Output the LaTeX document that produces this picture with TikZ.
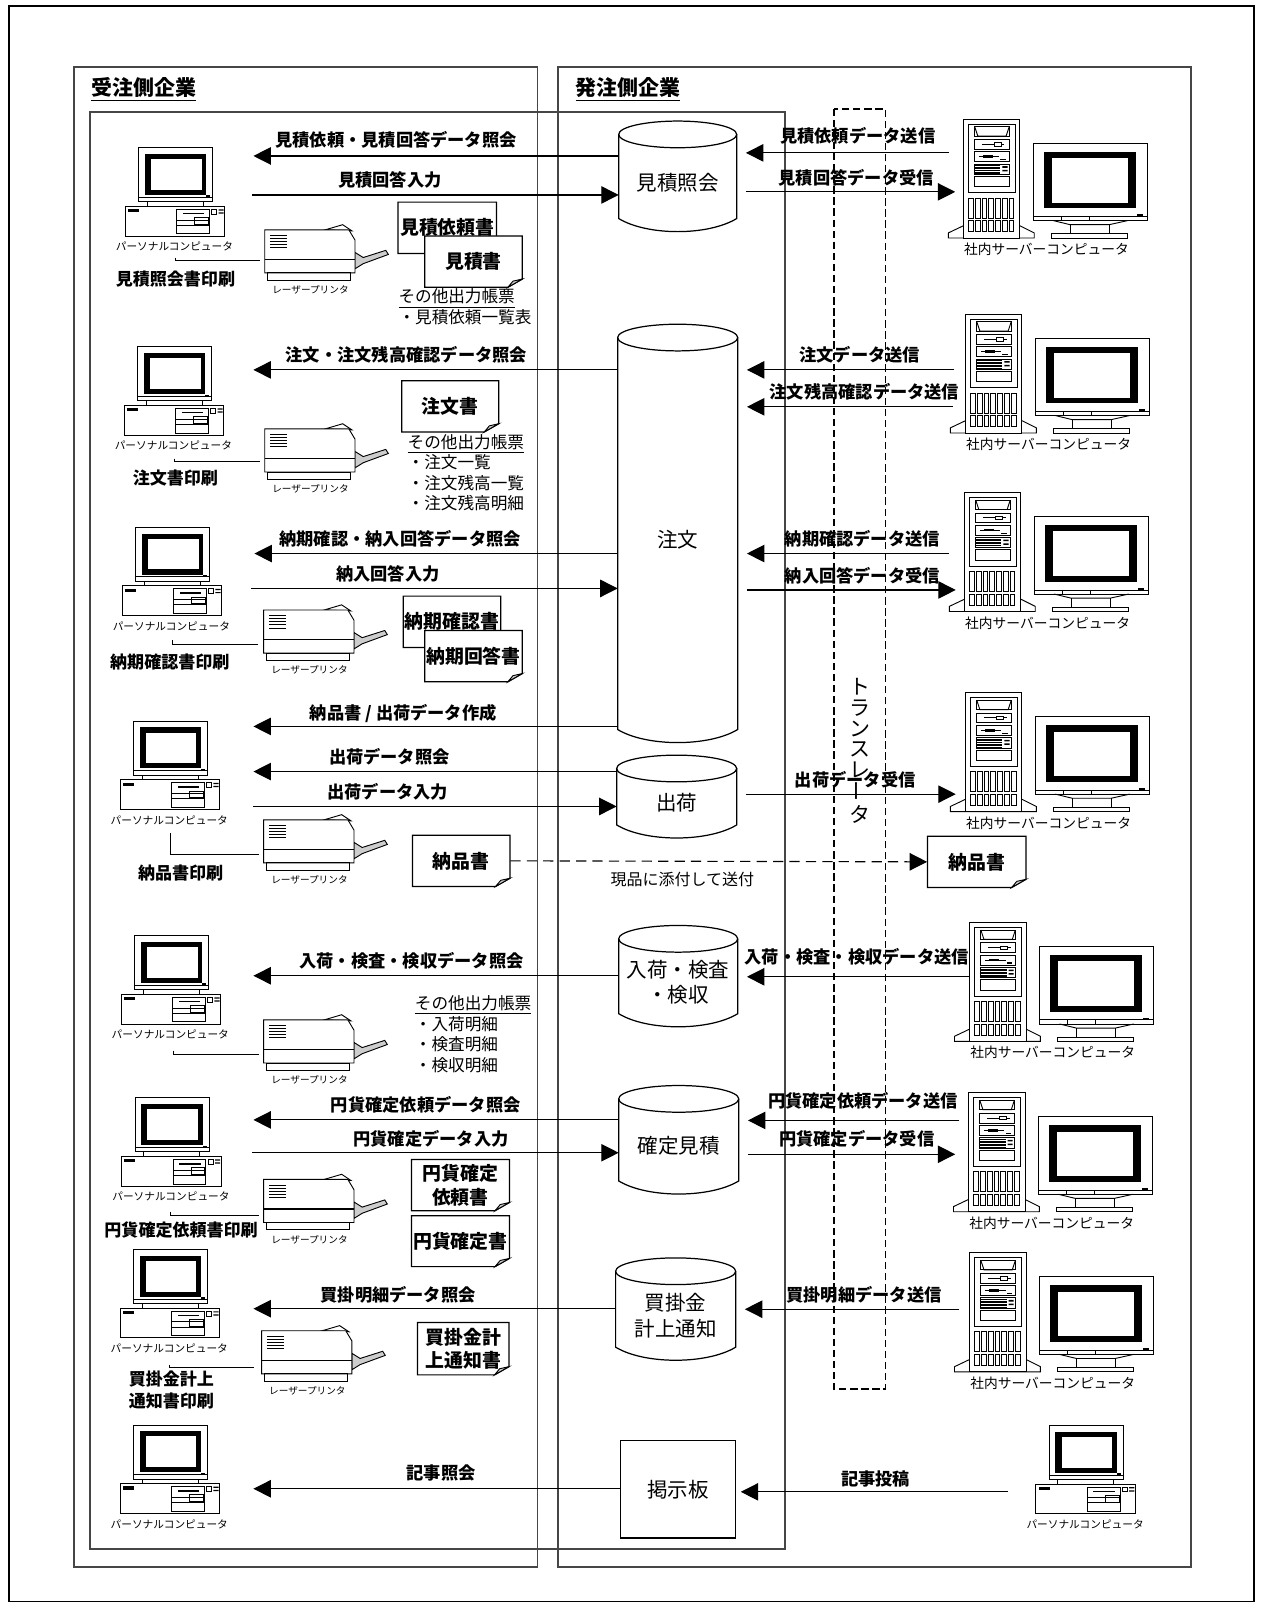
\documentclass[tikz,border=0pt]{standalone}
\usepackage{fontspec}
\setmainfont{Noto Sans CJK JP}
\usetikzlibrary{arrows.meta,positioning,calc}
\definecolor{paneline}{RGB}{70,70,70}
\definecolor{foldgray}{RGB}{205,205,205}
\tikzset{
  every picture/.style={line join=miter},
  panel/.style={draw=paneline,line width=0.8pt},
  gear/.style={line width=0.45pt},
  flow/.style={line width=0.55pt,-{Triangle[length=8.5pt,width=8.5pt]}},
  feedline/.style={line width=0.55pt},
  flowlabel/.style={inner sep=0pt,font=\bfseries\fontsize{8.4}{10}\selectfont},
  printlabel/.style={inner sep=0pt,align=center,font=\bfseries\fontsize{8.3}{10.5}\selectfont},
  papertext/.style={inner sep=0pt,align=center,font=\bfseries\fontsize{9.2}{11.5}\selectfont},
  dbtext/.style={inner sep=0pt,outer sep=0pt,align=center,font=\fontsize{10}{12.5}\selectfont},
  otherlist/.style={inner sep=0pt,anchor=north west,align=left,font=\fontsize{8.1}{10}\selectfont},
  sidetitle/.style={inner sep=0pt,font=\bfseries\fontsize{10.2}{12}\selectfont},
  pclabel/.style={inner sep=0pt,font=\fontsize{5.2}{6}\selectfont},
  srvlabel/.style={inner sep=0pt,font=\fontsize{6.7}{8}\selectfont},
  prnlabel/.style={inner sep=0pt,font=\fontsize{4.7}{6}\selectfont},
  pics/pcset/.style={code={
    \draw[gear] (13,0) rectangle (85.5,52.5);
    \fill (19,6) rectangle (79,46);
    \fill[white] (25,11) rectangle (74.5,41);
    \draw[gear] (13,48.3) -- (85.5,48.3);
    \fill (79,46.5) rectangle (83,48.3);
    \draw[gear] (21.5,52.5) -- (21.5,57) (76,52.5) -- (76,57);
    \draw[gear] (0,57) rectangle (97,86);
    \fill (2.6,59.7) rectangle (13.4,63);
    \draw[gear] (50,60) rectangle (82,84);
    \draw[gear] (50,70.4) -- (82,70.4) (50,75.3) -- (82,75.3);
    \fill (56,63.3) rectangle (77,65);
    \draw[gear] (68,68) rectangle (81,74.4);
    \draw[gear] (84.3,60) rectangle (89,64.6);
    \fill (91,60) rectangle (96,61.2) (91,63) rectangle (96,64.2);
    \node[pclabel] (-label) at (48,96.5) {パーソナルコンピュータ};
  }},
  pics/srvset/.style={code={
    \draw[gear] (0,104) -- (-14.7,111) -- (-14.7,116) -- (69,116) -- (69,111) -- (55,104);
    \draw[gear,fill=white] (0,0) rectangle (55,116);
    \draw[gear] (5,5) rectangle (51,72);
    \draw[gear] (11,7.5) rectangle (44.6,16.6);
    \draw[gear] (11,7.5) -- (14,16.6) -- (41.6,16.6) -- (44.6,7.5);
    \draw[gear] (11,20) rectangle (44.6,29.5);
    \draw[gear] (18,24.7) -- (30,24.7) (30,23) rectangle (37,26.5) (37,24.7) -- (40,24.7);
    \draw[gear] (11,32) rectangle (44.6,41.6);
    \fill (19,35.5) rectangle (29,38);
    \draw[gear] (15,36.7) -- (35,36.7);
    \fill (36,39) rectangle (41,40.3);
    \draw[gear] (11,44) rectangle (44.6,54);
    \foreach \hy in {45.5,47,...,53} \draw[line width=0.3pt] (11,\hy) -- (36,\hy);
    \fill (38,46) rectangle (43,47.5) (38,49.5) rectangle (43,51);
    \draw[gear] (11,56) rectangle (44.6,66);
    \foreach \vx in {5,11.6,...,45} {
      \draw[gear] (\vx,77) rectangle ++(4.6,19.6);
      \draw[gear] (\vx,99) rectangle ++(4.6,11);
    }
    \draw[gear] (68,23.5) rectangle (179,99);
    \fill (78.5,31.8) rectangle (168,87);
    \fill[white] (86,38) rectangle (160.6,81.5);
    \draw[gear] (68,95) -- (179,95) (95.7,95) -- (95.7,99) (122.6,95) -- (122.6,99);
    \fill (169,93) rectangle (175,95);
    \draw[gear] (87.6,99) -- (104,103) -- (142,103) -- (160,99);
    \draw[gear] (104,103) -- (104,112) (142,103) -- (142,112);
    \draw[gear] (86,112) rectangle (160,116);
    \node[srvlabel] (-label) at (81,127) {社内サーバーコンピュータ};
  }},
  pics/prnset/.style={code={
    \draw[gear,fill=white] (59,0) -- (76,-5) -- (85,1) -- cycle;
    \draw[gear,fill=foldgray] (88,22) -- (96,27) -- (118,20) -- (120.5,24) -- (96,33) -- (88,38) -- cycle;
    \draw[gear,fill=white] (0,0) -- (82,0) -- (88,10) -- (88,42) -- (0,42) -- cycle;
    \draw[line width=0.7pt] (0,29) -- (88,29);
    \draw[gear] (3,42) rectangle (84,49);
    \foreach \ly in {5.5,8.5,...,18} \draw[line width=0.4pt] (5.6,\ly) -- (22,\ly);
    \node[prnlabel] (-label) at (44.6,58.5) {レーザープリンタ};
  }},
}
% args: name, x1, y1, x2, y2, text
\newcommand{\dbcyl}[6]{%
  \draw[line width=0.6pt] (#2,#3+13) -- (#2,#5-13) .. controls (#2+28,#5+4) and (#4-28,#5+4) .. (#4,#5-13) -- (#4,#3+13);
  \draw[line width=0.6pt] ({(#2+#4)/2},#3+13) ellipse [x radius={(#4-#2)/2},y radius=13];
  \node[dbtext,minimum width={(#4-#2)*0.5pt},minimum height={(#5-#3)*0.5pt}] (#1) at ({(#2+#4)/2},{(#3+#5)/2+6}) {#6};
  \coordinate (#1-r) at ([xshift=4.5pt]#1.east);
}
\newcommand{\paper}[6]{%
  \draw[gear,line width=0.6pt,fill=white] (#2,#3) -- (#4,#3) -- (#4,#5-8) -- (#4-14,#5) -- (#2,#5) -- cycle;
  \draw[gear,fill=foldgray] (#4,#5-8) -- (#4-9,#5-6) -- (#4-14,#5) -- cycle;
  \node[papertext,minimum width={(#4-#2)*0.5pt},minimum height={(#5-#3)*0.5pt}] (#1) at ({(#2+#4)/2},{(#3+#5)/2}) {#6};
}

\begin{document}
\begin{tikzpicture}[x=0.5pt,y=-0.5pt]
  \useasboundingbox (0,0) rectangle (1230,1568.2);
  \draw[line width=0.8pt] (9,6) rectangle (1222,1561);
  \draw[panel] (72,65) rectangle (524,1527);
  \draw[panel] (544,65) rectangle (1161,1527);
  \draw[panel] (88,109) rectangle (765,1510);
  \draw[line width=0.75pt,dash pattern=on 3.6pt off 1.8pt] (813,106) rectangle (863,1354);
  \node[sidetitle] (sideA) at (140,87) {\underline{受注側企業}};
  \node[sidetitle] (sideB) at (612,87) {\underline{発注側企業}};
  \node[dbtext,font=\fontsize{10.2}{10.2}\selectfont] (trans) at (838,731.5)
    {ト\\ラ\\ン\\ス\\レ\\\rotatebox{90}{ー}\\タ};

  % databases
  \dbcyl{dbA}{603}{118}{718}{226}{見積照会}
  \dbcyl{dbB}{602}{316}{719}{724}{\raisebox{-2.5pt}{注文}}
  \dbcyl{dbC}{601}{736}{718}{817}{出荷}
  \dbcyl{dbD}{603}{902}{719}{1001}{入荷・検査\\・検収}
  \dbcyl{dbE}{603}{1058}{720}{1164}{確定見積}
  \dbcyl{dbF}{600}{1226}{717}{1326}{買掛金\\計上通知}
  \node[draw,line width=0.6pt,dbtext,minimum width=56pt,minimum height=47.5pt] (board) at (661,1451.5) {掲示板};
  \coordinate (board-r) at ([xshift=2.5pt]board.east);

  % client machines
  \foreach \n/\px/\py in {A/122/144,B/121/338,C/119/514,D/117/703,E/118/912,F/118.6/1070,G/117/1218,H/117/1389,K/1009.6/1389.5}
    \pic (pc\n) at (\px,\py) {pcset};
  % server machines
  \foreach \n/\px/\py in {A/939/116,B/941/306,C/940/480,D/941/675,E/945/899,F/944/1065,G/945/1221}
    \pic (srv\n) at (\px,\py) {srvset};
  % printers
  \foreach \n/\px/\py in {A/258/224,B/258/418,C/257/594.5,D/257/799,E/257/994,F/257/1149.5,G/255/1297}
    \pic (prn\n) at (\px,\py) {prnset};
  \foreach \n/\xa/\ya/\xb/\yb in {A/171/251/253/254,B/170/447/253/450,C/168/624/251/628,D/166/812/252/833,E/169/1024/252/1028,F/166/1181/252/1185,G/165/1330/248/1333} {
    \coordinate (tap\n) at (\xa,\ya);
    \coordinate (feed\n) at (\xb,\yb);
    \draw[feedline] (tap\n) |- (feed\n);
  }

  % printed papers
  \paper{ppEstReq}{388}{197}{484}{247}{見積依頼書}
  \paper{ppEst}{414}{230}{509}{280}{見積書}
  \paper{ppOrder}{391.5}{371}{486}{421}{注文書}
  \paper{ppDueChk}{393}{581}{488}{631}{納期確認書}
  \paper{ppDueAns}{414}{614.5}{509}{664.5}{納期回答書}
  \paper{ppShipA}{402}{814}{497}{864}{納品書}
  \paper{ppShipB}{904}{815}{1000}{865}{納品書}
  \paper{ppYenReq}{401}{1130}{496.5}{1180}{円貨確定\\依頼書}
  \paper{ppYen}{401}{1185}{496.5}{1234.5}{円貨確定書}
  \paper{ppPay}{407}{1289}{496}{1340}{買掛金計\\上通知書}

  \node[otherlist] (listA) at (388,281) {\underline{その他出力帳票}\\・見積依頼一覧表};
  \node[otherlist] (listB) at (397,423) {\underline{その他出力帳票}\\・注文一覧\\・注文残高一覧\\・注文残高明細};
  \node[otherlist] (listC) at (404,970) {\underline{その他出力帳票}\\・入荷明細\\・検査明細\\・検収明細};

  \foreach \n/\lx/\ly/\txt in {A/171/272/見積照会書印刷,B/171/466/注文書印刷,C/165.5/645/納期確認書印刷,D/176/851/納品書印刷,E/176.5/1198.5/円貨確定依頼書印刷,F/167/1354.5/{買掛金計上\\通知書印刷}}
    \node[printlabel] (cap\n) at (\lx,\ly) {\txt};

  % from a database out to the companies
  \foreach \n/\db/\farx/\ya/\lx/\ly/\txt in {
    oA/dbA/247/152/386/136/見積依頼・見積回答データ照会,
    oB/dbB/247/360.5/396/346/注文・注文残高確認データ照会,
    oC/dbB/248/539.5/390/525.5/納期確認・納入回答データ照会,
    oD/dbB/247/708/393/695/{納品書 / 出荷データ作成},
    oE/dbC/247/752/379.5/737.5/出荷データ照会,
    oF/dbD/247/951/401/936/入荷・検査・検収データ照会,
    oG/dbE/247/1091.5/415/1077/円貨確定依頼データ照会,
    oH/dbF/247/1275.5/388/1262/買掛明細データ照会,
    oK/board/247/1451/430/1436/記事照会} {
    \coordinate (\n) at (\farx,\ya);
    \draw[flow] (\db.west |- \n) -- (\n);
    \node[flowlabel] (\n-label) at (\lx,\ly) {\txt};
  }
  % input from the left into a database
  \foreach \n/\db/\farx/\ya/\lx/\ly/\txt in {
    iA/dbA/245.5/190/380/175.5/見積回答入力,
    iB/dbB/245/573.5/378/559/納入回答入力,
    iC/dbC/247/786/378/771.5/出荷データ入力,
    iD/dbE/246/1123.5/420/1110/円貨確定データ入力} {
    \coordinate (\n) at (\farx,\ya);
    \draw[flow] (\n) -- (\db.west |- \n);
    \node[flowlabel] (\n-label) at (\lx,\ly) {\txt};
  }
  % from the servers into a database
  \foreach \n/\db/\farx/\ya/\lx/\ly/\txt in {
    sA/dbA/925/149/836/132.5/見積依頼データ送信,
    sB/dbB/930/360.5/838/346/注文データ送信,
    sC/dbB/928.5/396.5/842.5/381.5/注文残高確認データ送信,
    sD/dbB/925/539.5/840.5/525.5/納期確認データ送信,
    sE/dbD/945/952/835/932.5/入荷・検査・検収データ送信,
    sF/dbE/935/1092/841/1073/円貨確定依頼データ送信,
    sG/dbF/935/1276/842/1262/買掛明細データ送信,
    sH/board/982/1454/853.5/1441/記事投稿} {
    \coordinate (\n) at (\farx,\ya);
    \draw[flow] (\n) -- (\db-r |- \n);
    \node[flowlabel] (\n-label) at (\lx,\ly) {\txt};
  }
  % from a database back to the servers
  \foreach \n/\db/\farx/\ya/\lx/\ly/\txt in {
    rA/dbA/931/187/834.5/173/見積回答データ受信,
    rB/dbB/931.5/575/840.5/561.5/納入回答データ受信,
    rC/dbC/931.5/774/833.5/759.5/出荷データ受信,
    rD/dbE/931/1125/835/1110/円貨確定データ受信} {
    \coordinate (\n) at (\farx,\ya);
    \draw[flow] (\db-r |- \n) -- (\n);
    \node[flowlabel] (\n-label) at (\lx,\ly) {\txt};
  }
  \draw[flow,dash pattern=on 5pt off 3pt] (ppShipA.east) -- (ppShipB.west);
  \node[inner sep=0pt,font=\fontsize{7.8}{9}\selectfont] (shipnote) at (665,857) {現品に添付して送付};
\end{tikzpicture}
\end{document}
